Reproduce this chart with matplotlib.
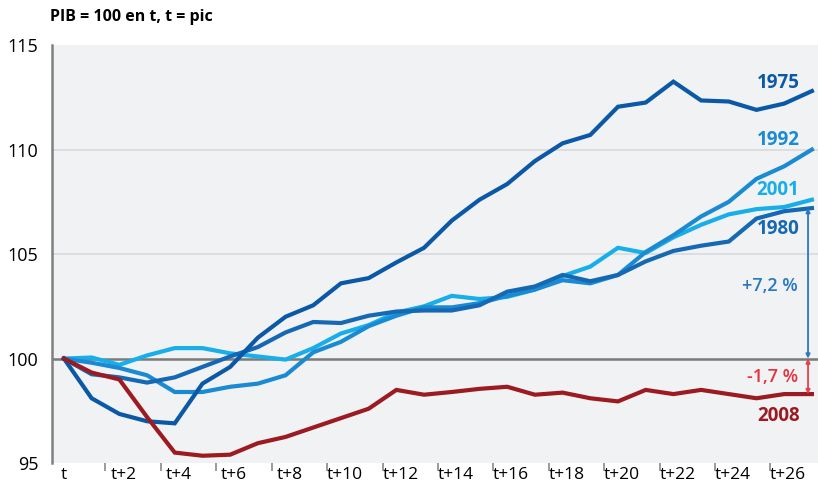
import numpy as np
import matplotlib
matplotlib.use("Agg")
import matplotlib.pyplot as plt
import matplotlib.transforms as mtransforms

plt.rcParams['font.family'] = ['Open Sans', 'DejaVu Sans']

# quarters after peak (t = 0 ... t+27)
quarters = np.arange(28)

pib_1975 = [100, 98.1, 97.35, 97.0, 96.9, 98.8, 99.6, 101.0, 102.0, 102.55,
            103.6, 103.85, 104.6, 105.3, 106.6, 107.6, 108.35, 109.45, 110.3, 110.7,
            112.05, 112.25, 113.25, 112.35, 112.3, 111.9, 112.2, 112.8]
pib_1980 = [100, 99.25, 99.1, 98.85, 99.1, 99.6, 100.1, 100.55, 101.25, 101.75,
            101.7, 102.05, 102.25, 102.3, 102.3, 102.55, 103.2, 103.45, 104.0, 103.7,
            104.0, 104.65, 105.15, 105.4, 105.6, 106.7, 107.05, 107.2]
pib_1992 = [100, 99.8, 99.55, 99.2, 98.4, 98.4, 98.65, 98.8, 99.2, 100.3,
            100.8, 101.55, 102.05, 102.45, 102.45, 102.65, 103.0, 103.3, 103.75, 103.6,
            104.0, 105.1, 105.9, 106.8, 107.5, 108.6, 109.2, 110.0]
pib_2001 = [100, 100.05, 99.7, 100.15, 100.5, 100.5, 100.25, 100.1, 99.95, 100.5,
            101.2, 101.6, 102.2, 102.5, 103.0, 102.85, 102.95, 103.3, 103.95, 104.4,
            105.3, 105.05, 105.8, 106.4, 106.9, 107.15, 107.25, 107.6]
pib_2008 = [100, 99.33, 99.0, 97.2, 95.5, 95.35, 95.4, 95.95, 96.25, 96.7,
            97.15, 97.6, 98.5, 98.27, 98.4, 98.55, 98.65, 98.27, 98.37, 98.1,
            97.95, 98.5, 98.3, 98.5, 98.3, 98.1, 98.3, 98.3]

tick_pos = list(range(0, 27, 2))
tick_labels = ['t'] + ['t+%d' % k for k in tick_pos[1:]]

c1975 = '#0b59a6'
c1980 = '#1569b4'
c1992 = '#1a8ad2'
c2001 = '#17aeea'
c2008 = '#9c1b22'

fig = plt.figure(figsize=(8.18, 4.9), dpi=100)
ax = fig.add_axes([0.0636, 0.055, 0.9364, 0.853])
ax.set_facecolor('#f1f2f4')

for v in (105, 110):
    ax.axhline(v, color='#d8d9dc', lw=1.2, zorder=1)
ax.axhline(100, color='#7a7a7a', lw=1.8, zorder=2)

lw = 3.0
ax.plot(quarters, pib_2001, color=c2001, lw=lw, zorder=3, solid_joinstyle='miter')
ax.plot(quarters, pib_1992, color=c1992, lw=lw, zorder=4, solid_joinstyle='miter')
ax.plot(quarters, pib_1980, color=c1980, lw=lw, zorder=5, solid_joinstyle='miter')
ax.plot(quarters, pib_1975, color=c1975, lw=lw, zorder=6, solid_joinstyle='miter')
ax.plot(quarters, pib_2008, color=c2008, lw=lw, zorder=7, solid_joinstyle='miter')

ax.set_xlim(-0.43, 27.22)
ax.set_ylim(95, 115)

ax.set_yticks([95, 100, 105, 110, 115])
ax.set_yticklabels(['95', '100', '105', '110', '115'], fontsize=13)
ax.tick_params(axis='y', length=0, pad=10)

ax.set_xticks(tick_pos)
ax.set_xticklabels(tick_labels, fontsize=12.5)
ax.set_xticks(np.arange(1.5, 26, 2), minor=True)
ax.tick_params(axis='x', which='major', length=0, pad=3)
ax.tick_params(axis='x', which='minor', length=6, width=1.2, color='#8a8a8a', direction='out')
shift = mtransforms.ScaledTranslation(4 / 100, 0, fig.dpi_scale_trans)
for lab in ax.get_xticklabels()[1:]:
    lab.set_transform(lab.get_transform() + shift)

for s in ('top', 'right', 'bottom'):
    ax.spines[s].set_visible(False)
ax.spines['left'].set_color('#808080')
ax.spines['left'].set_linewidth(1.8)

# series labels
lab_x = 26.55
ax.text(lab_x, 113.2, '1975', color=c1975, fontsize=13.5, fontweight='bold', ha='right', va='center')
ax.text(lab_x, 110.45, '1992', color=c1992, fontsize=13.5, fontweight='bold', ha='right', va='center')
ax.text(lab_x, 108.05, '2001', color=c2001, fontsize=13.5, fontweight='bold', ha='right', va='center')
ax.text(lab_x, 106.2, '1980', color=c1980, fontsize=13.5, fontweight='bold', ha='right', va='center')
ax.text(lab_x, 97.25, '2008', color=c2008, fontsize=13.5, fontweight='bold', ha='right', va='center')

# gap arrows
arr_x = 26.86
ax.annotate('', xy=(arr_x, 100), xytext=(arr_x, pib_1980[-1]),
            arrowprops=dict(arrowstyle='<|-|>', color='#2a78c2', lw=1.3,
                            mutation_scale=6, shrinkA=0, shrinkB=0), zorder=8)
ax.annotate('', xy=(arr_x, 100), xytext=(arr_x, pib_2008[-1]),
            arrowprops=dict(arrowstyle='<|-|>', color='#e8404a', lw=1.3,
                            mutation_scale=6, shrinkA=0, shrinkB=0), zorder=8)
ax.text(26.5, 103.45, '+7,2 %', color='#2a78c2', fontsize=13, fontweight='semibold',
        ha='right', va='center')
ax.text(26.5, 99.1, '-1,7 %', color='#e8323c', fontsize=13, fontweight='semibold',
        ha='right', va='center')

fig.text(50 / 818, 1 - 17 / 490, 'PIB = 100 en t, t = pic', fontsize=11.5,
         fontweight='bold', ha='left', va='center')

fig.savefig('out.png', dpi=100)
plt.close(fig)
